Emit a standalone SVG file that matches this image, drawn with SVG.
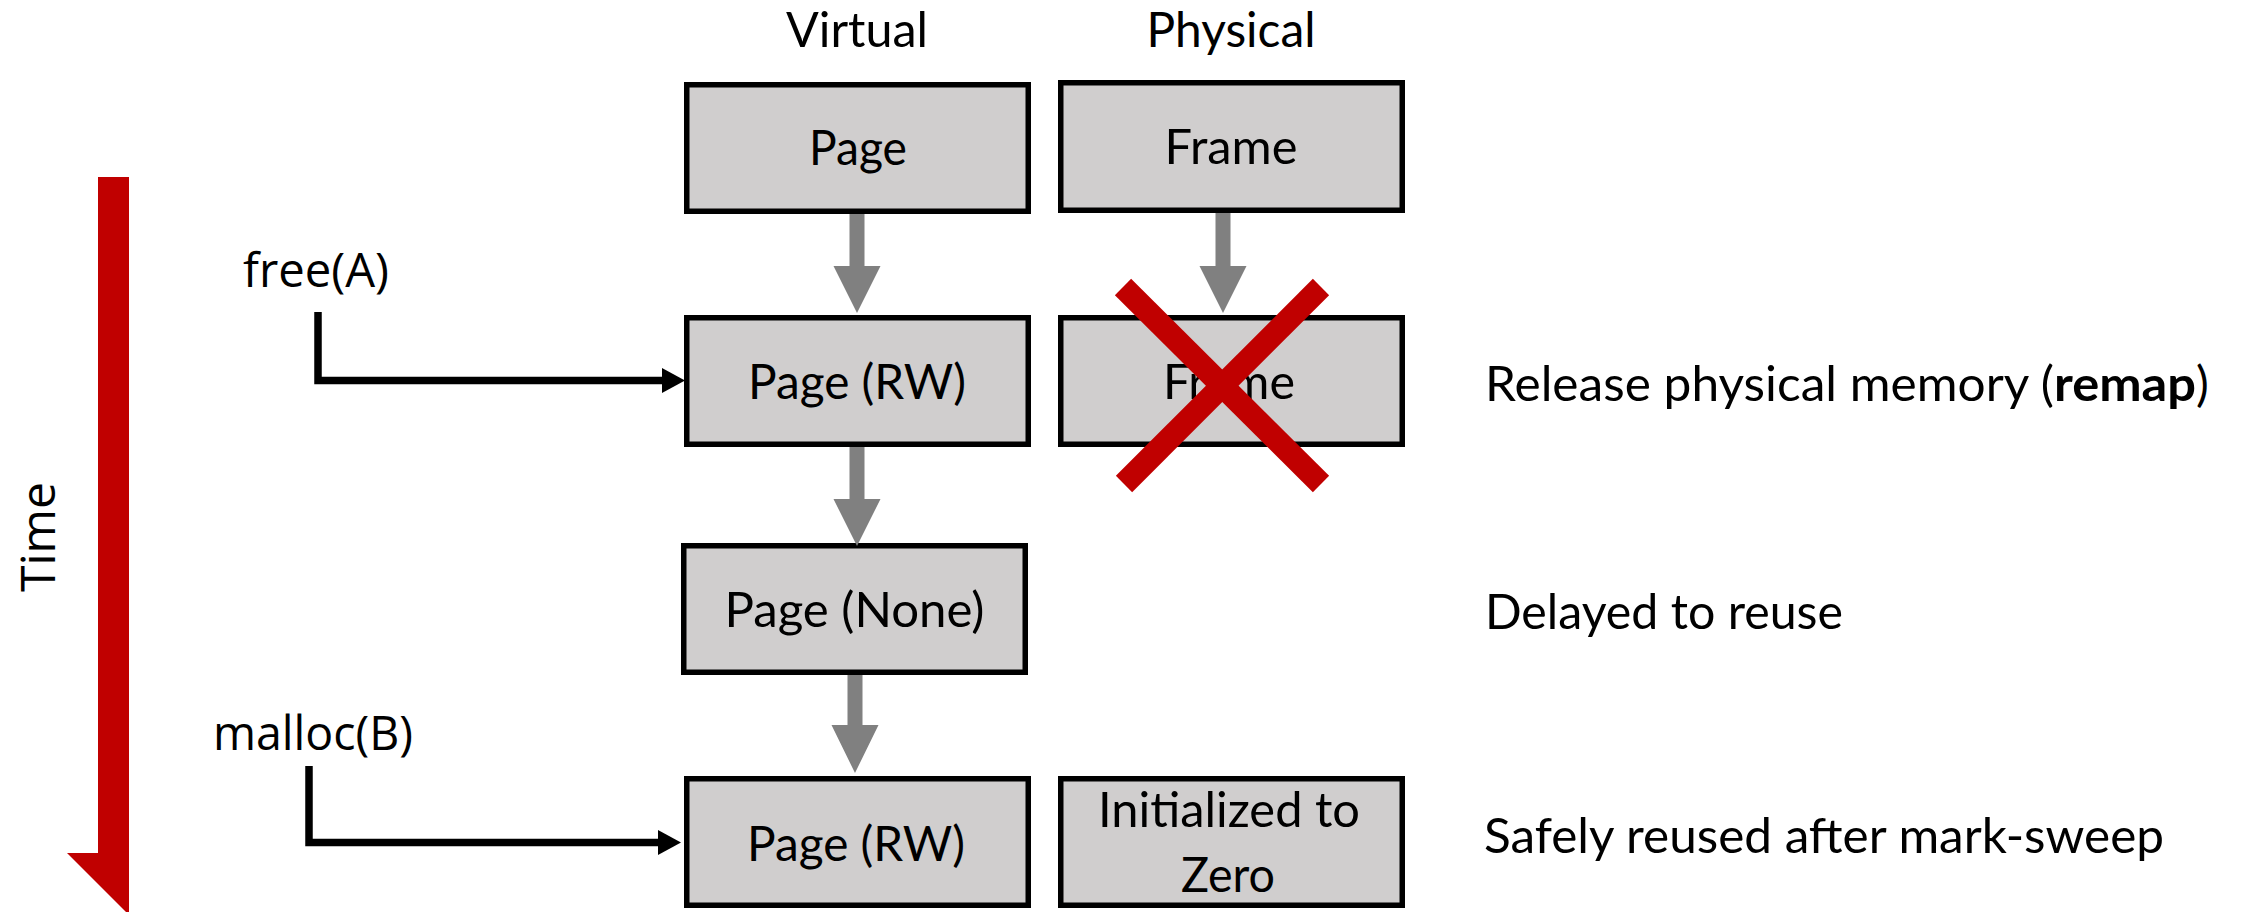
<svg xmlns="http://www.w3.org/2000/svg" width="2242" height="912" viewBox="0 0 2242 912">
<style>
  .box { fill: #D0CECE; stroke: #000000; stroke-width: 5.5; }
  .bt { font-family: Lato, "Open Sans", "Liberation Sans", sans-serif; font-size: 48px; fill: #000000; }
  .lt { font-family: "Open Sans", "Noto Sans", "Liberation Sans", sans-serif; font-size: 48px; fill: #000000; }
  .gray { fill: #808080; }
  .conn { fill: none; stroke: #000000; stroke-width: 7.5; }
  .redx { stroke: #C00000; stroke-width: 23; stroke-linecap: butt; }
</style>
<defs>
  <marker id="blackhead" markerUnits="userSpaceOnUse" markerWidth="24" markerHeight="26" refX="0" refY="12.5" orient="auto">
    <path d="M0,0 L23,12.5 L0,25 Z" fill="#000000"/>
  </marker>
</defs>
<rect width="2242" height="912" fill="#FFFFFF"/>

<!-- Time arrow -->
<g id="time-axis">
  <polygon points="98,177 129,177 129,915 67,853 98,853" fill="#C00000"/>
  <text class="lt" text-anchor="middle" transform="translate(55,537) rotate(-90)">Time</text>
</g>

<!-- Column headers -->
<g id="headers">
  <text class="bt" x="857" y="47" text-anchor="middle" textLength="142" lengthAdjust="spacingAndGlyphs">Virtual</text>
  <text class="bt" x="1231" y="47" text-anchor="middle" textLength="169" lengthAdjust="spacingAndGlyphs">Physical</text>
</g>

<!-- Nodes -->
<g id="page-1">
  <rect class="box" x="686.75" y="84.75" width="341.5" height="126.5"/>
  <text class="bt" x="858" y="165" text-anchor="middle" textLength="98" lengthAdjust="spacingAndGlyphs">Page</text>
</g>
<g id="frame-1">
  <rect class="box" x="1060.75" y="82.75" width="341.5" height="127.5"/>
  <text class="bt" x="1231" y="164" text-anchor="middle" textLength="133" lengthAdjust="spacingAndGlyphs">Frame</text>
</g>
<g id="page-rw-1">
  <rect class="box" x="686.75" y="317.75" width="341.5" height="126.5"/>
  <text class="bt" x="857" y="399" text-anchor="middle" textLength="218" lengthAdjust="spacingAndGlyphs">Page (RW)</text>
</g>
<g id="frame-2">
  <rect class="box" x="1060.75" y="317.75" width="341.5" height="126.5"/>
  <text class="bt" x="1229" y="398.5" text-anchor="middle" textLength="132" lengthAdjust="spacingAndGlyphs">Frame</text>
</g>
<g id="page-none">
  <rect class="box" x="683.75" y="545.75" width="341.5" height="126.5"/>
  <text class="bt" x="854.5" y="627" text-anchor="middle" textLength="260" lengthAdjust="spacingAndGlyphs">Page (None)</text>
</g>
<g id="page-rw-2">
  <rect class="box" x="686.75" y="778.75" width="341.5" height="126.5"/>
  <text class="bt" x="856" y="861" text-anchor="middle" textLength="218" lengthAdjust="spacingAndGlyphs">Page (RW)</text>
</g>
<g id="frame-zero">
  <rect class="box" x="1060.75" y="778.75" width="341.5" height="126.5"/>
  <text class="bt" x="1229" y="827" text-anchor="middle" textLength="262" lengthAdjust="spacingAndGlyphs">Initialized to</text>
  <text class="bt" x="1228" y="892" text-anchor="middle" textLength="94" lengthAdjust="spacingAndGlyphs">Zero</text>
</g>

<!-- Red cross over released frame -->
<g id="release-cross">
  <line class="redx" x1="1123" y1="287" x2="1321" y2="484"/>
  <line class="redx" x1="1321" y1="287" x2="1124" y2="484"/>
</g>

<!-- Event labels -->
<g id="free-label">
  <text class="lt" x="243" y="287" textLength="146" lengthAdjust="spacingAndGlyphs">free(A)</text>
</g>
<g id="malloc-label">
  <text class="lt" x="213" y="750" textLength="200" lengthAdjust="spacingAndGlyphs">malloc(B)</text>
</g>

<!-- Right-side descriptions -->
<g id="desc-release">
  <text class="bt" x="1485" y="401"><tspan textLength="569" lengthAdjust="spacingAndGlyphs">Release physical memory (</tspan><tspan x="2054" font-weight="bold" textLength="142" lengthAdjust="spacingAndGlyphs">remap</tspan><tspan x="2196">)</tspan></text>
</g>
<g id="desc-delayed">
  <text class="bt" x="1485" y="629" textLength="358" lengthAdjust="spacingAndGlyphs">Delayed to reuse</text>
</g>
<g id="desc-safe">
  <text class="bt" x="1484" y="853" textLength="680" lengthAdjust="spacingAndGlyphs">Safely reused after mark-sweep</text>
</g>

<!-- Connectors -->
<g id="connectors">
  <polygon class="gray" points="849.5,214 864.5,214 864.5,266 880.5,266 857,313 833.5,266 849.5,266"/>
  <polygon class="gray" points="1215.5,213 1230.5,213 1230.5,266 1246.5,266 1223,313 1199.5,266 1215.5,266"/>
  <polygon class="gray" points="849.5,447 864.5,447 864.5,499 880.5,499 857,546 833.5,499 849.5,499"/>
  <polygon class="gray" points="847.5,675 862.5,675 862.5,725 878.5,725 855,773 831.5,725 847.5,725"/>
  <path class="conn" d="M318,312 V380.5 H662" marker-end="url(#blackhead)"/>
  <path class="conn" d="M309,766 V842.5 H658" marker-end="url(#blackhead)"/>
</g>
</svg>
